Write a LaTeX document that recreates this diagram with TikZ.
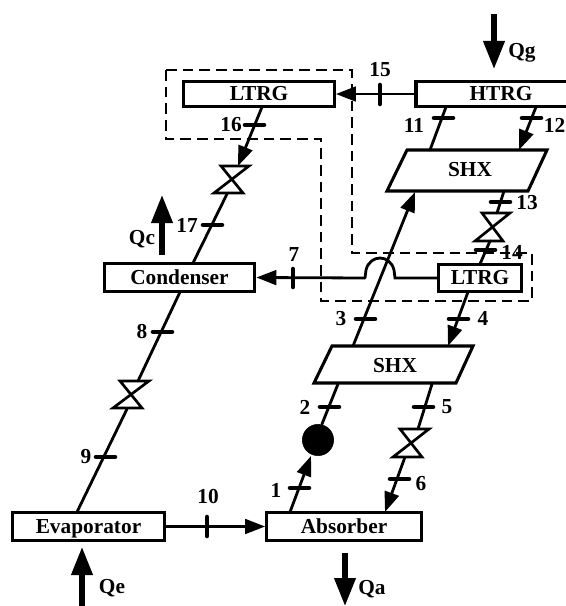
\documentclass[tikz,border=0pt]{standalone}
\usepackage{fontspec}
\setmainfont{Liberation Serif}
\usetikzlibrary{arrows.meta}
\tikzset{
 line/.style={line width=2.1pt,line cap=round},
 flow/.style={line width=2.1pt,-{Triangle[length=15pt,width=11pt]}},
 heat/.style={line width=3.8pt,-{Triangle[length=21pt,width=15.5pt]}},
 tick/.style={line width=3.4pt,line cap=round},
 box/.style={draw,line width=2.3pt,fill=white,inner sep=0pt,text height=11pt,text depth=1.2pt,font=\bfseries\fontsize{16}{17}\selectfont},
 lab/.style={font=\bfseries\fontsize{16}{17}\selectfont,inner sep=0pt},
 dashline/.style={line width=1.2pt,dash pattern=on 8pt off 4.5pt},
 valve/.style={line width=2pt,line join=miter},
 para/.style={draw,line width=2.3pt,fill=white,line join=miter},
}
\begin{document}
\begin{tikzpicture}[x=0.75pt,y=-0.75pt]
\useasboundingbox (0,0) rectangle (566,606);
\clip (0,0) rectangle (566,606);
% dashed outline
\draw[dashline] (166,70) -- (352,70) -- (352,253) -- (532,253) -- (532,301) -- (321,301) -- (321,139) -- (166,139) -- cycle;
% nodes
\node[box,minimum width=113pt,minimum height=19pt] (ltrgA) at (259,94) {LTRG};
\node[box,minimum width=127.5pt,minimum height=19pt] (htrg) at (501,94) {HTRG};
\node[box,minimum width=62pt,minimum height=20pt] (ltrgB) at (480,278) {LTRG};
\node[box,minimum width=113pt,minimum height=21pt] (cond) at (179.5,277.5) {Condenser};
\node[box,minimum width=113.5pt,minimum height=21pt] (evap) at (88.5,526.5) {Evaporator};
\node[box,minimum width=116pt,minimum height=21pt] (abs) at (344,526.5) {Absorber};
\draw[para] (407,150) -- (547,150) -- (528,191) -- (387,191) -- cycle;
\node[lab] (shxA) at (470,170) {SHX};
\draw[para] (332,346) -- (473,346) -- (456,383) -- (314,383) -- cycle;
\node[lab] (shxB) at (395,366) {SHX};
\node[circle,fill=black,draw=black,minimum size=23.5pt,inner sep=0pt] (pump) at (318,440) {};
% valves
\draw[valve] (221,166) -- (249,166) -- (214,193) -- (243,193) -- cycle;
\draw[valve] (120,381) -- (149,381) -- (113,408) -- (142,408) -- cycle;
\draw[valve] (482,213) -- (510,213) -- (475,241) -- (503,241) -- cycle;
\draw[valve] (400,429) -- (429,429) -- (393,457) -- (422,457) -- cycle;
% flows
\coordinate (a16) at (262,107); \draw[flow] (a16) -- (238,166);
\coordinate (a17) at (227,194); \coordinate (b17) at (193,263); \draw[line] (a17) -- (b17);
\coordinate (a8) at (180,292); \coordinate (b8) at (138,381); \draw[line] (a8) -- (b8);
\coordinate (a9) at (127,409); \coordinate (b9) at (77,512); \draw[line] (a9) -- (b9);
\coordinate (a11) at (446,107); \coordinate (b11) at (430,150); \draw[line] (a11) -- (b11);
\coordinate (a12) at (536,107); \coordinate (b12) at (519,150); \draw[flow] (a12) -- (b12);
\coordinate (a13) at (504,191); \draw[line] (a13) -- (497,213);
\coordinate (a14) at (490,241); \coordinate (b14) at (480,264); \draw[line] (a14) -- (b14);
\coordinate (a4) at (468,292); \coordinate (b4) at (448,346); \draw[flow] (a4) -- (b4);
\coordinate (a3) at (353,346); \coordinate (b3) at (415,192); \draw[flow] (a3) -- (b3);
\coordinate (a5) at (432,384); \draw[line] (a5) -- (418,429);
\coordinate (a6) at (405,457); \coordinate (b6) at (385,512); \draw[flow] (a6) -- (b6);
\coordinate (a2) at (338,384); \coordinate (b2) at (322,424); \draw[line] (a2) -- (b2);
\coordinate (a1) at (290,512); \coordinate (b1) at (311,456); \draw[flow] (a1) -- (b1);
\draw[flow] (evap.east) -- (abs.west);
\draw[flow] (htrg.west) -- (ltrgA.east);
\coordinate (h1) at (395,278); \coordinate (h2) at (365,278);
\draw[line] (ltrgB.west) -- (h1) -- (394,270) .. controls (392,262) and (386,258) .. (380,258) .. controls (374,258) and (368,262) .. (366,270) -- (h2);
\draw[flow] (h2) -- (cond.east);
% ticks
\foreach \x/\y in {245/125,434/118,522/118,491/202,476/250,356/319,449/319,320/407,414/407,390/479,290/488,203/225,153/332,96/457}
 \draw[tick] (\x,\y) -- ++(19,0);
\draw[tick] (380,85) -- (380,104);
\draw[tick] (293,269) -- (293,287);
\draw[tick] (207,517) -- (207,536);
% heat
\coordinate (q1) at (494,14); \coordinate (q2) at (494,69); \draw[heat] (q1) -- (q2);
\coordinate (q3) at (162,255); \coordinate (q4) at (162,195); \draw[heat] (q3) -- (q4);
\coordinate (q5) at (82,606); \coordinate (q6) at (82,547); \draw[heat] (q5) -- (q6);
\coordinate (q7) at (345,553); \coordinate (q8) at (345,606); \draw[heat] (q7) -- (q8);
% labels
\node[lab] (n1) at (276,490) {1};
\node[lab] (n2) at (305,407) {2};
\node[lab] (n3) at (341,319) {3};
\node[lab] (n4) at (483,318) {4};
\node[lab] (n5) at (447,407) {5};
\node[lab] (n6) at (421,484) {6};
\node[lab] (n7) at (294,255) {7};
\node[lab] (n8) at (142,332) {8};
\node[lab] (n9) at (86,457) {9};
\node[lab] (n10) at (208,497) {10};
\node[lab] (n11) at (414,125) {11};
\node[lab] (n12) at (554.5,125) {12};
\node[lab] (n13) at (527,203) {13};
\node[lab] (n14) at (512,252) {14};
\node[lab] (n15) at (380,70) {15};
\node[lab] (n16) at (231,125) {16};
\node[lab] (n17) at (187,225) {17};
\node[lab] (qg) at (522,53) {Qg};
\node[lab] (qc) at (142,239) {Qc};
\node[lab] (qe) at (112,588) {Qe};
\node[lab] (qa) at (372,589) {Qa};
\end{tikzpicture}
\end{document}
